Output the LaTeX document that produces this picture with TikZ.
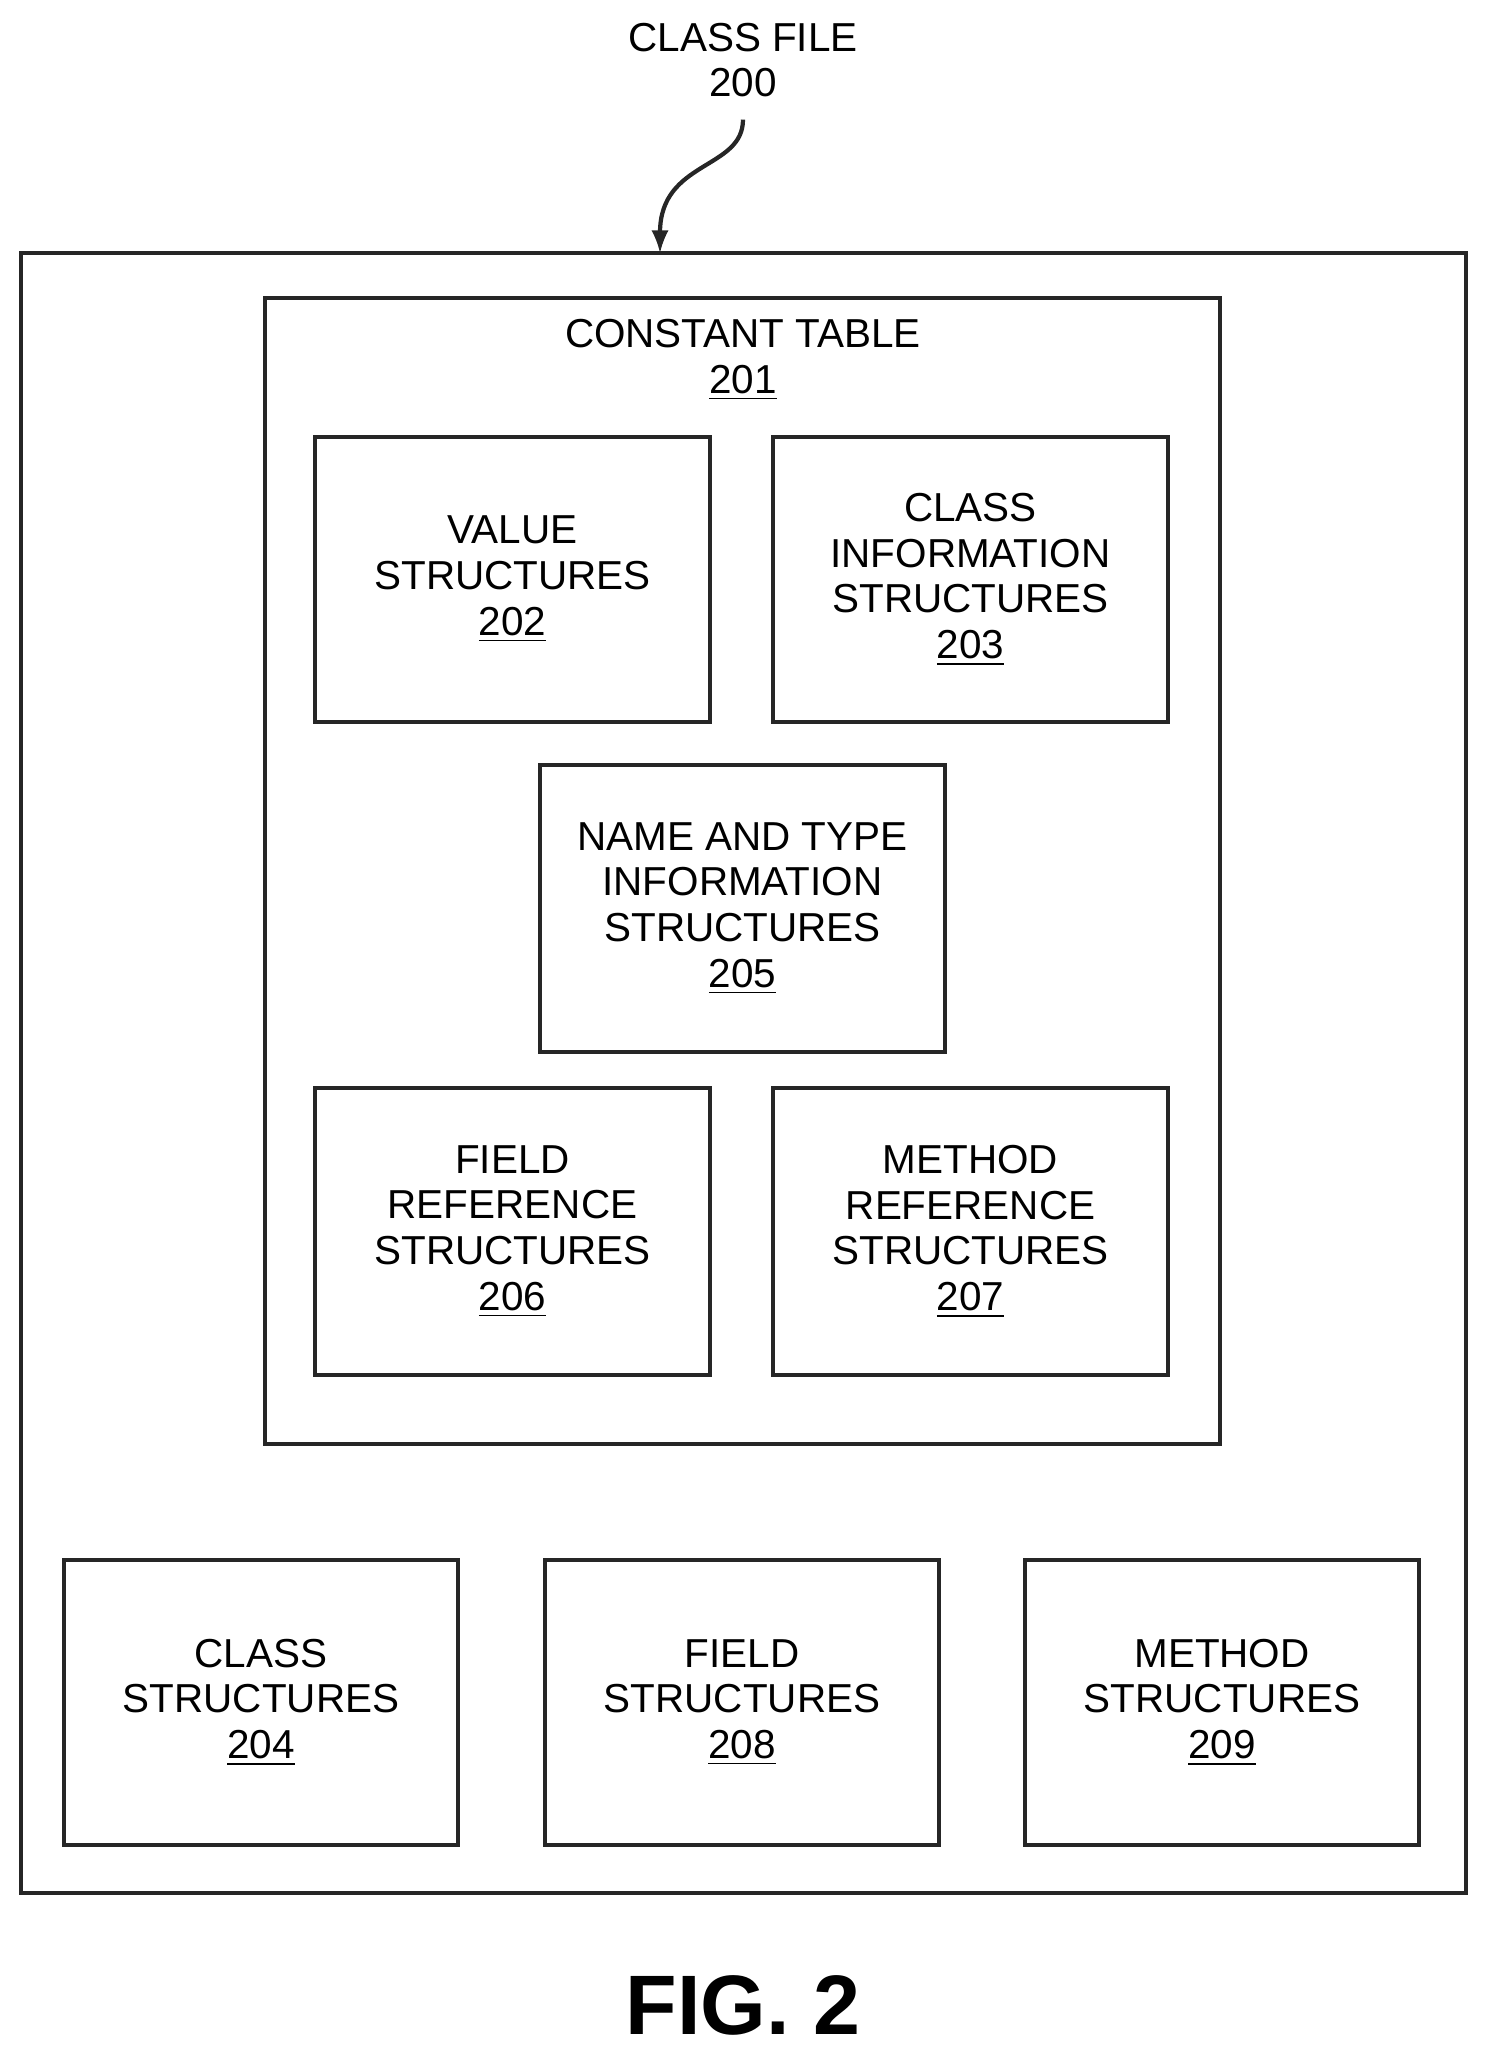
\documentclass[tikz,border=0pt]{standalone}
\usepackage{fontspec}
\setmainfont{Liberation Sans}
\tikzset{
  box/.style={draw=black!85,line width=1.3pt},
  lbl/.style={align=center,font=\fontsize{11.5}{13}\selectfont}
}
\newcommand{\refnum}[1]{\underline{#1}}
\begin{document}
\begin{tikzpicture}[x=0.01cm,y=-0.01cm]
\useasboundingbox (0,0) rectangle (1490,2061);

% outer class file and constant table
\draw[box] (21,253) rectangle (1466,1893);
\draw[box] (265,298) rectangle (1220,1444);
\node[lbl] (title) at (743,360) {CONSTANT TABLE\\\refnum{201}};
\node[lbl] (cf) at (743,60) {CLASS FILE\\200};
\coordinate (cfin) at (660,253);
\draw[-latex,line width=1.2pt,black!85] (cf.south) ++(0,10) .. controls (743,170) and (660,160) .. (cfin);

% structures inside the constant table
\draw[box] (315,437) rectangle (710,722) node[lbl,midway] (val) {VALUE\\STRUCTURES\\\refnum{202}};
\draw[box] (773,437) rectangle (1168,722) node[lbl,midway] (cls) {CLASS\\INFORMATION\\STRUCTURES\\\refnum{203}};
\draw[box] (540,765) rectangle (945,1052) node[lbl,midway] (nat) {NAME AND TYPE\\INFORMATION\\STRUCTURES\\\refnum{205}};
\draw[box] (315,1088) rectangle (710,1375) node[lbl,midway] (fref) {FIELD\\REFERENCE\\STRUCTURES\\\refnum{206}};
\draw[box] (773,1088) rectangle (1168,1375) node[lbl,midway] (mref) {METHOD\\REFERENCE\\STRUCTURES\\\refnum{207}};

% bottom row
\draw[box] (64,1560) rectangle (458,1845) node[lbl,midway] (clss) {CLASS\\STRUCTURES\\\refnum{204}};
\draw[box] (545,1560) rectangle (939,1845) node[lbl,midway] (flds) {FIELD\\STRUCTURES\\\refnum{208}};
\draw[box] (1025,1560) rectangle (1419,1845) node[lbl,midway] (mths) {METHOD\\STRUCTURES\\\refnum{209}};

\node[font=\fontsize{24}{28}\bfseries\selectfont] (fig) at (743,2005) {FIG. 2};
\end{tikzpicture}
\end{document}
